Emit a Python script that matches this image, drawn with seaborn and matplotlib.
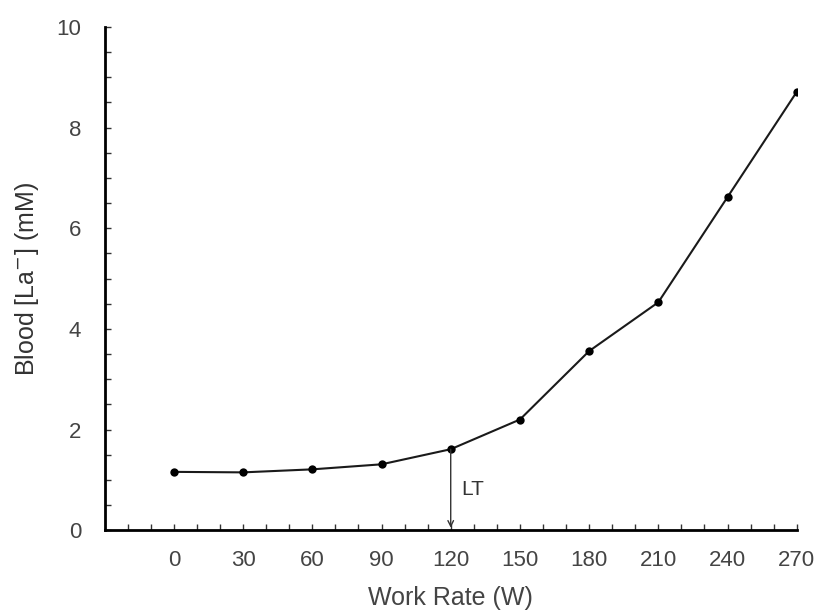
import numpy as np
import matplotlib
matplotlib.use("Agg")
import matplotlib.pyplot as plt
import seaborn as sns
import pandas as pd

# work rate steps and blood lactate
work_rate = [0, 30, 60, 90, 120, 150, 180, 210, 240, 270]
lactate = [1.16, 1.15, 1.21, 1.31, 1.61, 2.2, 3.56, 4.53, 6.62, 8.71]
x_ticks = [0, 30, 60, 90, 120, 150, 180, 210, 240, 270]
y_ticks = [0, 2, 4, 6, 8, 10]
lt_work_rate = 120
lt_lactate = 1.61

df = pd.DataFrame({"work": work_rate, "la": lactate})

sns.set_style("ticks")
plt.rcParams['font.family'] = ['Liberation Sans', 'DejaVu Sans']

fig = plt.figure(figsize=(8.18, 6.13), dpi=100)
ax = fig.add_axes([0.128, 0.135, 0.846, 0.821])

sns.lineplot(data=df, x="work", y="la", ax=ax, color="#1a1a1a", linewidth=1.5,
             marker="o", markersize=6, markeredgewidth=0, markerfacecolor="black")

# lactate threshold arrow
ax.annotate("", xy=(lt_work_rate, 0.05), xytext=(lt_work_rate, lt_lactate),
            arrowprops=dict(arrowstyle="->", color="#333333", lw=1.0, shrinkA=0, shrinkB=0))
ax.text(lt_work_rate + 4.5, 0.8, "LT", fontsize=15, color="#333333", va="center")

ax.set_xlim(-30, 270)
ax.set_ylim(0, 10)
ax.set_xticks(x_ticks)
ax.set_yticks(y_ticks)
ax.set_xticks(np.arange(-20, 271, 10), minor=True)
ax.set_yticks(np.arange(0, 10.01, 0.5), minor=True)
ax.tick_params(which="both", direction="in", color="#333333", width=1, length=4,
               labelsize=16, labelcolor="#444444")
ax.tick_params(axis="x", pad=14)
ax.tick_params(axis="y", pad=17)

ax.set_xlabel("Work Rate (W)", fontsize=18, color="#444444")
ax.set_ylabel("Blood [La$^{-}$] (mM)", fontsize=18, color="#333333")
ax.xaxis.set_label_coords(0.5, -0.11)
ax.yaxis.set_label_coords(-0.092, 0.5)

for s in ["top", "right"]:
    ax.spines[s].set_visible(False)
for s in ["left", "bottom"]:
    ax.spines[s].set_linewidth(2)
    ax.spines[s].set_color("black")

plt.savefig("out.png", dpi=100)
